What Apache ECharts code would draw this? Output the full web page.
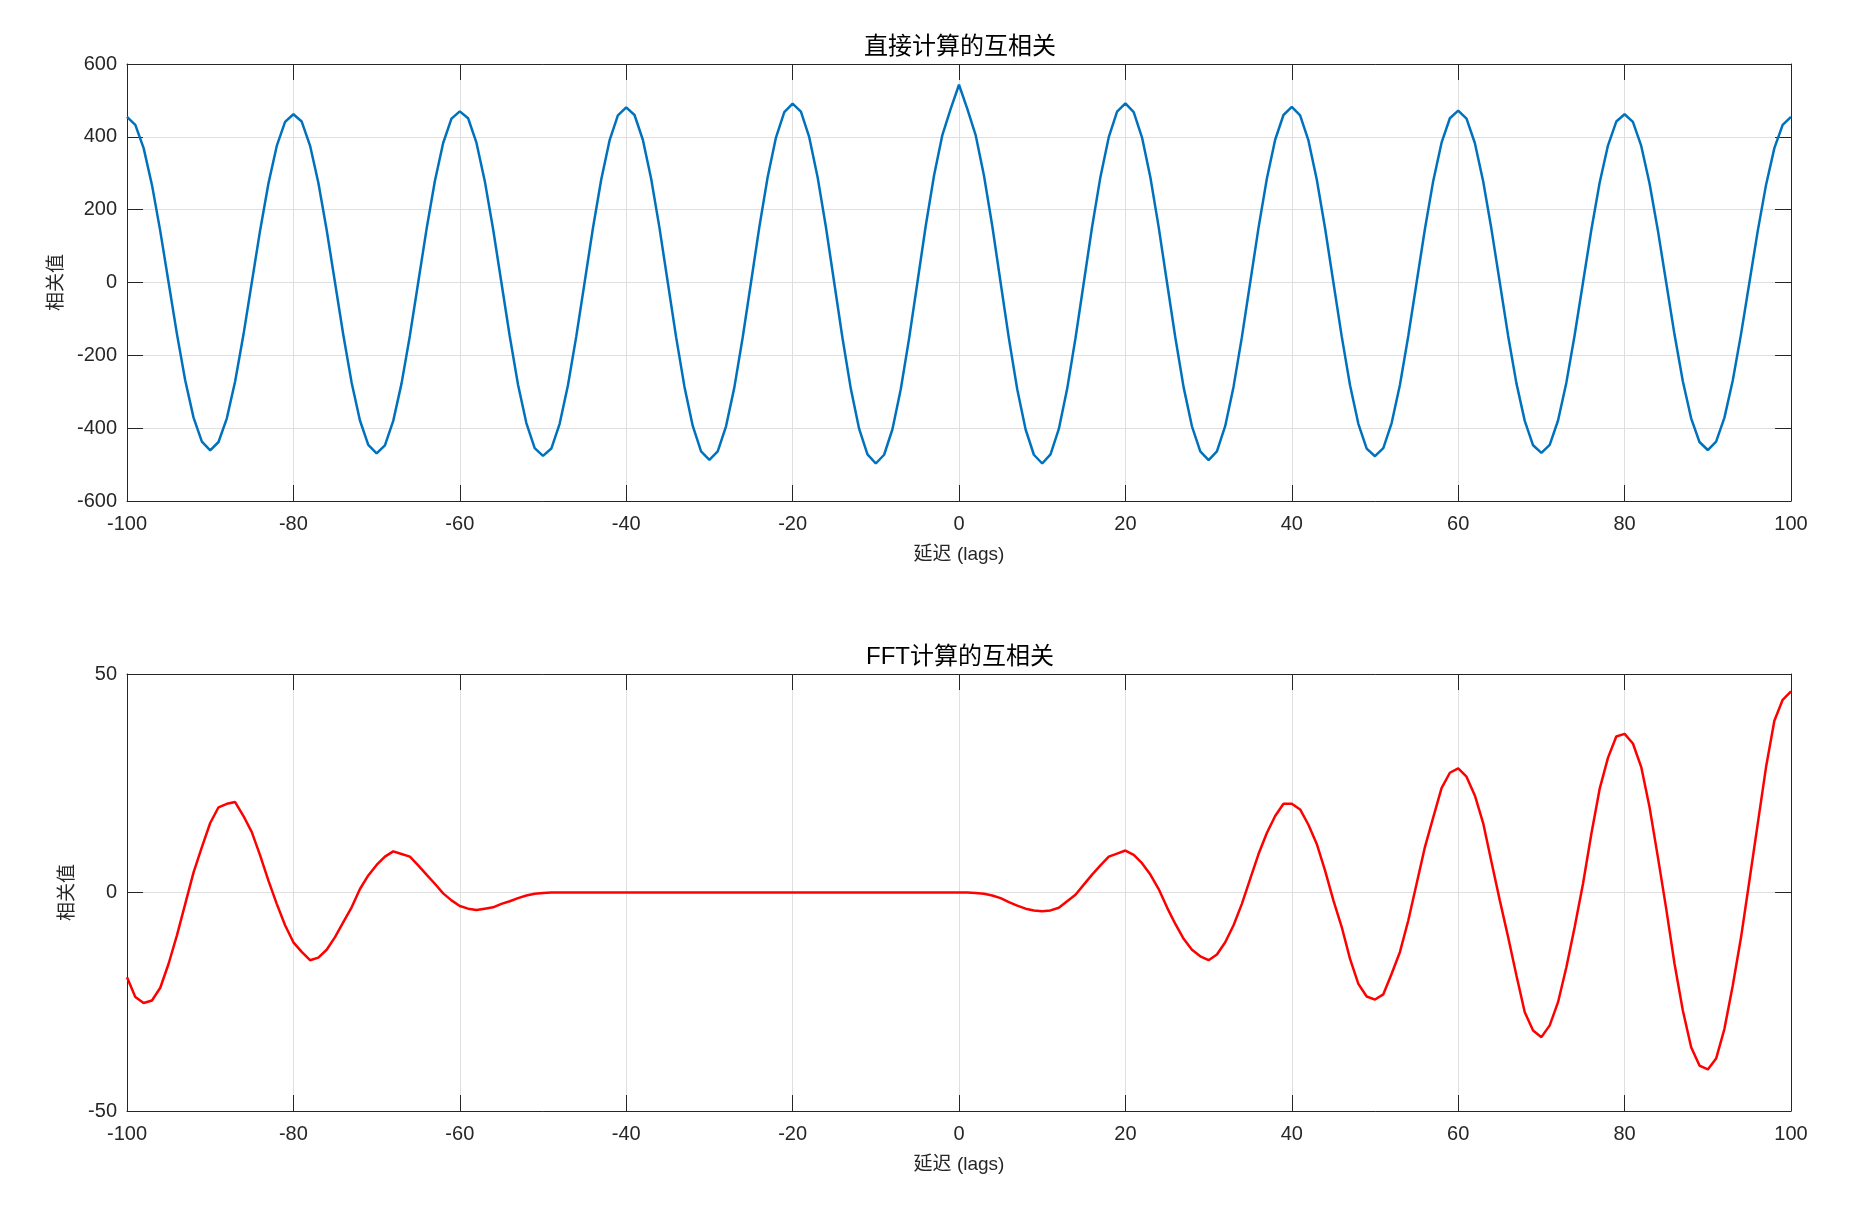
<!DOCTYPE html>
<html>
<head>
<meta charset="utf-8">
<title>互相关</title>
<script src="https://cdn.jsdelivr.net/npm/echarts@6/dist/echarts.min.js"></script>
<style>
  html, body { margin: 0; padding: 0; background: #fff; }
  #chart { width: 1860px; height: 1207px; }
</style>
</head>
<body>
<div id="chart"></div>
<script>
// lags -100 .. 100
const lagMin = -100;
const lagMax = 100;

// 直接计算的互相关, one value per lag
const directCorr = [
  455, 433, 369, 268, 141, 0, -141, -269, -371, -437,
  -461, -438, -373, -271, -143, 0, 143, 272, 375, 441,
  462, 442, 376, 274, 144, 0, -144, -275, -379, -446,
  -469, -447, -380, -277, -146, 0, 146, 278, 383, 450,
  470, 451, 384, 279, 147, 0, -147, -281, -386, -455,
  -476, -456, -388, -282, -148, 0, 149, 283, 390, 459,
  481, 460, 392, 285, 150, 0, -150, -286, -394, -464,
  -487, -464, -395, -288, -151, 0, 152, 289, 398, 468,
  491, 469, 399, 290, 153, 0, -153, -292, -402, -472,
  -497, -473, -403, -293, -154, 0, 155, 294, 405, 477,
  543,
  477, 405, 294, 155, 0, -154, -293, -403, -473,
  -497, -472, -402, -292, -153, 0, 153, 290, 399, 469,
  492, 468, 398, 289, 152, 0, -151, -288, -395, -464,
  -488, -464, -394, -286, -150, 0, 150, 285, 392, 460,
  482, 459, 390, 283, 149, 0, -148, -282, -388, -456,
  -477, -455, -386, -281, -147, 0, 147, 279, 384, 451,
  472, 450, 383, 278, 146, 0, -146, -277, -380, -447,
  -468, -446, -379, -275, -144, 0, 144, 274, 376, 442,
  462, 441, 375, 272, 143, 0, -143, -271, -373, -438,
  -460, -437, -371, -269, -141, 0, 141, 268, 369, 433,
  455
];

// FFT计算的互相关, one value per lag
const fftCorr = [
  -19.4, -23.9, -25.3, -24.7, -21.8, -16.3, -9.8, -2.6, 4.6, 10.4,
  15.9, 19.5, 20.3, 20.7, 17.5, 13.8, 8.5, 2.7, -2.6, -7.5,
  -11.4, -13.6, -15.5, -14.9, -13.1, -10.2, -6.8, -3.4, 0.8, 3.9,
  6.3, 8.2, 9.4, 8.8, 8.2, 6.2, 4.1, 2.0, -0.2, -1.8,
  -3.1, -3.7, -4.0, -3.7, -3.4, -2.6, -2.0, -1.3, -0.7, -0.3,
  -0.1, 0, 0, 0, 0, 0, 0, 0, 0, 0,
  0, 0, 0, 0, 0, 0, 0, 0, 0, 0,
  0, 0, 0, 0, 0, 0, 0, 0, 0, 0,
  0, 0, 0, 0, 0, 0, 0, 0, 0, 0,
  0, 0, 0, 0, 0, 0, 0, 0, 0, 0,
  0, 0, -0.1, -0.3, -0.7, -1.3, -2.2, -3.0, -3.7, -4.1,
  -4.3, -4.1, -3.5, -2.0, -0.5, 1.8, 4.1, 6.2, 8.2, 8.9,
  9.6, 8.6, 6.7, 4.1, 0.8, -3.4, -7.2, -10.6, -13.1, -14.6,
  -15.5, -14.2, -11.4, -7.5, -2.6, 3.1, 8.8, 13.6, 17.5, 20.3,
  20.3, 19.0, 15.5, 11.1, 5.0, -1.8, -7.9, -15.2, -20.9, -23.8,
  -24.5, -23.3, -18.6, -13.6, -6.4, 2.0, 10.4, 17.2, 23.9, 27.4,
  28.4, 26.5, 22.2, 15.9, 7.0, -1.8, -10.2, -19.0, -27.4, -31.6,
  -33.1, -30.4, -25.1, -17.1, -7.9, 2.0, 13.4, 23.7, 30.8, 35.7,
  36.3, 34.1, 28.7, 19.5, 8.1, -3.7, -16.3, -27.0, -35.4, -39.6,
  -40.5, -38.0, -31.2, -21.3, -10.2, 2.7, 15.7, 28.7, 39.3, 44.1,
  46.0
];

const titles = ['直接计算的互相关', 'FFT计算的互相关'];
const xName = '延迟 (lags)';
const yName = '相关值';

const lags = [];
for (let k = lagMin; k <= lagMax; k++) lags.push(k);

const axisColor = '#262626';
const gridColor = '#dfdfdf';
const numFont = "'Liberation Sans', Arial, sans-serif";
const cjkFont = "'Liberation Sans', 'Noto Sans CJK SC', sans-serif";

const plotLeft = 127;
const plotRight = 69;
const plotHeight = 437;
const plotTops = [64, 674];

function xAxes(gi) {
    return [
        {
            gridIndex: gi, type: 'value', position: 'bottom',
            min: lagMin, max: lagMax, interval: 20,
            name: xName, nameLocation: 'middle', nameGap: 44,
            nameTextStyle: { fontFamily: cjkFont, fontSize: 19, color: axisColor },
            axisLine: { onZero: false, lineStyle: { color: axisColor, width: 1 } },
            axisTick: { inside: true, length: 16, lineStyle: { color: axisColor } },
            axisLabel: { margin: 13, fontFamily: numFont, fontSize: 20, color: axisColor },
            splitLine: { show: true, lineStyle: { color: gridColor, width: 1 } }
        },
        {
            gridIndex: gi, type: 'value', position: 'top',
            min: lagMin, max: lagMax, interval: 20,
            axisLine: { onZero: false, lineStyle: { color: axisColor, width: 1 } },
            axisTick: { inside: true, length: 16, lineStyle: { color: axisColor } },
            axisLabel: { show: false },
            splitLine: { show: false }
        }
    ];
}

function yAxes(gi, min, max, interval, gap) {
    return [
        {
            gridIndex: gi, type: 'value', position: 'left',
            min: min, max: max, interval: interval,
            name: yName, nameLocation: 'middle', nameGap: gap, nameRotate: 90,
            nameTextStyle: { fontFamily: cjkFont, fontSize: 19, color: axisColor },
            axisLine: { show: true, onZero: false, lineStyle: { color: axisColor, width: 1 } },
            axisTick: { show: true, inside: true, length: 16, lineStyle: { color: axisColor } },
            axisLabel: { margin: 10, fontFamily: numFont, fontSize: 20, color: axisColor },
            splitLine: { show: true, lineStyle: { color: gridColor, width: 1 } }
        },
        {
            gridIndex: gi, type: 'value', position: 'right',
            min: min, max: max, interval: interval,
            axisLine: { show: true, onZero: false, lineStyle: { color: axisColor, width: 1 } },
            axisTick: { show: true, inside: true, length: 16, lineStyle: { color: axisColor } },
            axisLabel: { show: false },
            splitLine: { show: false }
        }
    ];
}

const chart = echarts.init(document.getElementById('chart'), null, { renderer: 'canvas' });

const option = {
    animation: false,
    backgroundColor: '#ffffff',
    title: titles.map((t, i) => ({
        text: t,
        left: plotLeft + (1860 - plotLeft - plotRight) / 2 - 4,
        textAlign: 'center',
        top: plotTops[i] - 34,
        textStyle: { fontFamily: cjkFont, fontSize: 24, fontWeight: 'normal', color: '#000' }
    })),
    grid: plotTops.map(t => ({ left: plotLeft, right: plotRight, top: t, height: plotHeight })),
    xAxis: [].concat(xAxes(0), xAxes(1)),
    yAxis: [].concat(yAxes(0, -600, 600, 200, 55), yAxes(1, -50, 50, 50, 42)),
    series: [
        {
            type: 'line', xAxisIndex: 0, yAxisIndex: 0,
            showSymbol: false, symbol: 'none',
            lineStyle: { color: '#0072BD', width: 2.5 },
            data: lags.map((x, i) => [x, directCorr[i]])
        },
        {
            type: 'line', xAxisIndex: 2, yAxisIndex: 2,
            showSymbol: false, symbol: 'none',
            lineStyle: { color: '#FF0000', width: 2.5 },
            data: lags.map((x, i) => [x, fftCorr[i]])
        }
    ]
};

chart.setOption(option);
</script>
</body>
</html>
